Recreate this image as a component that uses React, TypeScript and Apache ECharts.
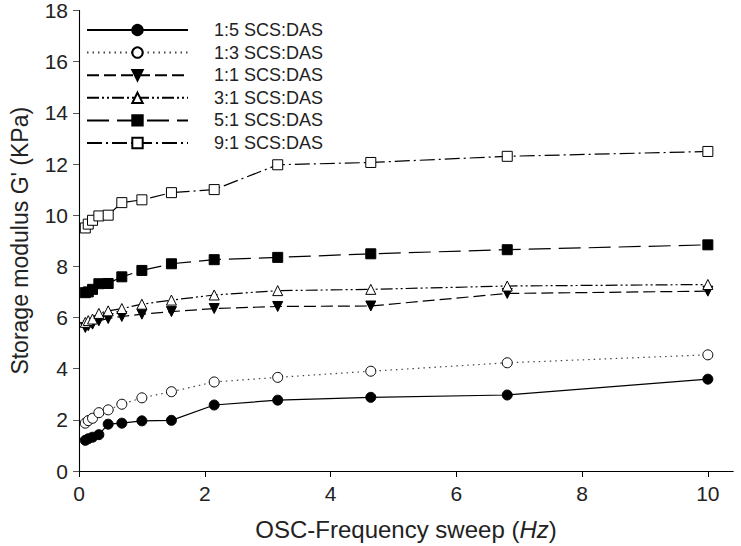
import React, { useEffect, useRef } from "react";
import * as echarts from "echarts";

const freq = [0.1, 0.147, 0.215, 0.316, 0.464, 0.681, 1, 1.47, 2.15, 3.16, 4.64, 6.81, 10];
const names = ["1:5 SCS:DAS", "1:3 SCS:DAS", "1:1 SCS:DAS", "3:1 SCS:DAS", "5:1 SCS:DAS", "9:1 SCS:DAS"];
const r1_5 = [1.2, 1.26, 1.32, 1.42, 1.83, 1.87, 1.96, 1.98, 2.58, 2.77, 2.88, 2.97, 3.59];
const r1_3 = [1.87, 1.97, 2.06, 2.28, 2.39, 2.61, 2.86, 3.1, 3.48, 3.66, 3.9, 4.23, 4.54];
const r1_1 = [5.61, 5.68, 5.74, 5.87, 5.96, 6.04, 6.13, 6.23, 6.35, 6.43, 6.45, 6.94, 7.03];
const r3_1 = [5.81, 5.88, 5.94, 6.16, 6.26, 6.35, 6.52, 6.68, 6.88, 7.05, 7.1, 7.23, 7.29];
const r5_1 = [6.97, 7.0, 7.1, 7.32, 7.33, 7.59, 7.84, 8.1, 8.26, 8.35, 8.49, 8.65, 8.84];
const r9_1 = [9.5, 9.65, 9.8, 9.97, 10.0, 10.49, 10.6, 10.88, 11.0, 11.97, 12.06, 12.3, 12.49];
const xTicks = [0, 2, 4, 6, 8, 10];

const FONT = "Liberation Sans, Arial, Helvetica, sans-serif";

export default function App() {
  const ref = useRef<HTMLDivElement>(null);
  useEffect(() => {
    if (!ref.current) return;
    const chart = echarts.init(ref.current, undefined, { renderer: "svg" });
    const pts = (ys: number[]) => freq.map((f, i) => [f, ys[i]]);
    const mk = (
      name: string,
      ys: number[],
      symbol: string,
      filled: boolean,
      dash: any,
      lineColor = "#000"
    ) => ({
      name,
      type: "line",
      data: pts(ys),
      symbol,
      symbolSize: 10,
      showSymbol: true,
      lineStyle: { color: lineColor, width: 1.2, type: dash },
      itemStyle: { color: filled ? "#000" : "#fff", borderColor: "#000", borderWidth: 1 },
      emphasis: { disabled: true },
      z: 3,
    });
    chart.setOption({
      animation: false,
      grid: { left: 73, right: 8, top: 8, bottom: 73, containLabel: false },
      legend: {
        orient: "vertical",
        left: 86,
        top: 20,
        padding: 0,
        itemWidth: 101,
        itemHeight: 13,
        itemGap: 2.6,
        data: names,
        textStyle: {
          fontFamily: FONT,
          fontSize: 18,
          color: "#222",
          lineHeight: 20,
          padding: [0, 0, 0, 21],
        },
      },
      xAxis: [
        {
          type: "value",
          min: 0,
          max: 10.4,
          interval: 2,
          name: "OSC-Frequency sweep ({i|Hz})",
          nameLocation: "middle",
          nameGap: 46,
          nameTextStyle: {
            fontFamily: FONT,
            fontSize: 24,
            color: "#222",
            rich: { i: { fontStyle: "italic", fontSize: 24, fontFamily: FONT, color: "#222" } },
          },
          axisLine: { show: true, lineStyle: { color: "#000", width: 1 } },
          axisTick: { show: true, inside: false, length: 6, lineStyle: { color: "#000" }, customValues: xTicks },
          axisLabel: {
            fontFamily: FONT,
            fontSize: 21,
            color: "#222",
            margin: 12,
            customValues: xTicks,
          },
          splitLine: { show: false },
        },
        {
          type: "value",
          position: "top",
          min: 0,
          max: 10.4,
          axisLine: { show: true, lineStyle: { color: "#000", width: 1 } },
          axisTick: { show: false },
          axisLabel: { show: false },
          splitLine: { show: false },
        },
      ],
      yAxis: [
        {
          type: "value",
          min: 0,
          max: 18,
          interval: 2,
          name: "Storage modulus G' (KPa)",
          nameLocation: "middle",
          nameGap: 48,
          nameRotate: 90,
          nameTextStyle: { fontFamily: FONT, fontSize: 23, color: "#222" },
          axisLine: { show: true, lineStyle: { color: "#808080", width: 1.2 } },
          axisTick: { show: true, inside: false, length: 6, lineStyle: { color: "#555" } },
          axisLabel: { fontFamily: FONT, fontSize: 21, color: "#222", margin: 11 },
          splitLine: { show: false },
        },
        {
          type: "value",
          position: "right",
          min: 0,
          max: 18,
          axisLine: { show: true, lineStyle: { color: "#000", width: 1 } },
          axisTick: { show: false },
          axisLabel: { show: false },
          splitLine: { show: false },
        },
      ],
      series: [
        mk(names[0], r1_5, "circle", true, "solid"),
        mk(names[1], r1_3, "circle", false, [1.5, 4], "#444"),
        mk(names[2], r1_1, "path://M0,0 L10,0 L5,9 Z", true, [12, 5]),
        mk(names[3], r3_1, "triangle", false, [12, 3, 2, 3, 2, 3]),
        mk(names[4], r5_1, "rect", true, [22, 8]),
        mk(names[5], r9_1, "rect", false, [15, 4, 2, 4]),
      ],
    });
    return () => chart.dispose();
  }, []);
  return (
    <div
      ref={ref}
      style={{ position: "fixed", left: 0, top: 0, width: 741, height: 546, background: "#fff" }}
    />
  );
}
